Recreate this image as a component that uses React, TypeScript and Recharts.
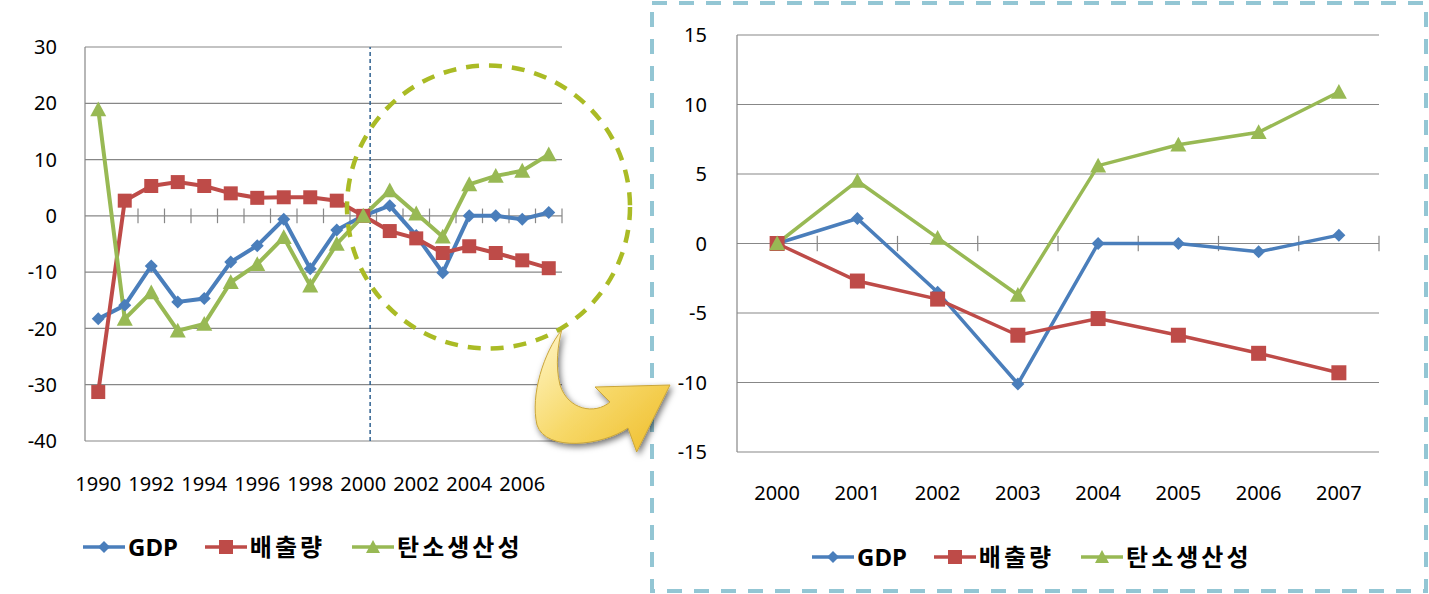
import React from 'react';
import { LineChart, Line, XAxis, YAxis, CartesianGrid, ReferenceLine, Legend } from 'recharts';

// 1990-2007 (left chart)
const yearsLong = [1990, 1991, 1992, 1993, 1994, 1995, 1996, 1997, 1998, 1999, 2000, 2001, 2002, 2003, 2004, 2005, 2006, 2007];
const gdpLong = [-18.3, -15.9, -8.9, -15.3, -14.7, -8.2, -5.3, -0.6, -9.4, -2.5, 0, 1.8, -3.5, -10.1, 0, 0, -0.6, 0.6];
const emissionLong = [-31.3, 2.7, 5.3, 6.0, 5.3, 4.0, 3.2, 3.3, 3.3, 2.7, 0, -2.7, -4.0, -6.6, -5.4, -6.6, -7.9, -9.3];
const productivityLong = [18.9, -18.3, -13.6, -20.4, -19.2, -11.8, -8.6, -3.8, -12.4, -5.0, 0, 4.5, 0.4, -3.7, 5.6, 7.1, 8.0, 10.9];
const longTicksX = [1990, 1992, 1994, 1996, 1998, 2000, 2002, 2004, 2006];
const longTicksY = [-40, -30, -20, -10, 0, 10, 20, 30];

// 2000-2007 (right chart)
const yearsShort = [2000, 2001, 2002, 2003, 2004, 2005, 2006, 2007];
const gdpShort = [0, 1.8, -3.5, -10.1, 0, 0, -0.6, 0.6];
const emissionShort = [0, -2.7, -4.0, -6.6, -5.4, -6.6, -7.9, -9.3];
const productivityShort = [0, 4.5, 0.4, -3.7, 5.6, 7.1, 8.0, 10.9];
const shortTicksY = [-15, -10, -5, 0, 5, 10, 15];

const FONT = "'Noto Sans', 'Noto Sans CJK KR', sans-serif";
const GRID = '#878787';

const series = [
  { key: 'gdp', name: 'GDP', color: '#4a7ebb', marker: 'diamond' },
  { key: 'emission', name: '배출량', color: '#be4b48', marker: 'square' },
  { key: 'productivity', name: '탄소생산성', color: '#98b954', marker: 'triangle' },
];

const longRows = yearsLong.map((year, i) => ({
  year, gdp: gdpLong[i], emission: emissionLong[i], productivity: productivityLong[i],
}));
const shortRows = yearsShort.map((year, i) => ({
  year, gdp: gdpShort[i], emission: emissionShort[i], productivity: productivityShort[i],
}));

const markerPath = (type: string, cx: number, cy: number, size: number) => {
  const r = size / 2;
  if (type === 'diamond') return `M${cx},${cy - r}L${cx + r},${cy}L${cx},${cy + r}L${cx - r},${cy}Z`;
  if (type === 'square') return `M${cx - r},${cy - r}h${size}v${size}h${-size}Z`;
  return `M${cx},${cy - r}L${cx + r},${cy + r * 0.85}L${cx - r},${cy + r * 0.85}Z`;
};

const makeDot = (type: string, color: string, size: number) => (props: any) => {
  const { cx, cy, index } = props;
  if (cx == null || cy == null) return <g key={index} />;
  return <path key={index} d={markerPath(type, cx, cy, size)} fill={color} />;
};

const LegendBox = ({ fontSize }: { fontSize: number }) => (
  <div style={{ display: 'flex', alignItems: 'center', fontFamily: FONT, fontWeight: 700, fontSize, color: '#000', whiteSpace: 'nowrap' }}>
    {series.map((s) => (
      <div key={s.key} style={{ display: 'flex', alignItems: 'center', marginRight: 27 }}>
        <svg width={42} height={20}>
          <line x1={0} y1={10} x2={42} y2={10} stroke={s.color} strokeWidth={3.5} />
          <path d={markerPath(s.marker, 21, 10, s.marker === 'diamond' ? 12 : 14)} fill={s.color} />
        </svg>
        <span style={{ marginLeft: 3, lineHeight: 1, letterSpacing: /^[A-Za-z]+$/.test(s.name) ? 0 : 3 }}>{s.name}</span>
      </div>
    ))}
  </div>
);

const boundaries = (years: number[]) => years.map((y) => y + 0.5);

export default function App() {
  return (
    <div style={{ position: 'absolute', left: 0, top: 0, width: 1429, height: 594, background: '#fff', overflow: 'hidden' }}>
      {/* left chart */}
      <LineChart
        width={640}
        height={594}
        data={longRows}
        margin={{ top: 47, right: 78, bottom: 113, left: 0 }}
        style={{ position: 'absolute', left: 0, top: 0 }}
      >
        <CartesianGrid horizontal vertical={false} stroke={GRID} strokeWidth={1.2} />
        <XAxis
          dataKey="year"
          type="number"
          domain={[1989.5, 2007.5]}
          ticks={longTicksX}
          height={40}
          axisLine={false}
          tickLine={false}
          tickMargin={30}
          tick={{ fill: '#000', fontSize: 20, fontFamily: FONT }}
          interval={0}
        />
        <YAxis
          width={85}
          domain={[-40, 30]}
          ticks={longTicksY}
          axisLine={{ stroke: GRID, strokeWidth: 1.2 }}
          tickLine={false}
          tickMargin={22}
          tick={{ fill: '#000', fontSize: 20, fontFamily: FONT }}
          interval={0}
        />
        {boundaries(yearsLong).map((b) => (
          <ReferenceLine key={b} segment={[{ x: b, y: -1.3 }, { x: b, y: 1.3 }]} stroke={GRID} strokeWidth={1.2} ifOverflow="visible" />
        ))}
        <ReferenceLine x={2000.26} stroke="#2f6190" strokeWidth={1.5} strokeDasharray="4 3" />
        {series.map((s) => (
          <Line
            key={s.key}
            dataKey={s.key}
            name={s.name}
            stroke={s.color}
            strokeWidth={4}
            dot={makeDot(s.marker, s.color, s.marker === 'diamond' ? 13 : s.marker === 'square' ? 14 : 16)}
            activeDot={false}
            isAnimationActive={false}
          />
        ))}
        <Legend
          layout="horizontal"
          verticalAlign="middle"
          align="center"
          wrapperStyle={{ left: 83, top: 535, width: 'auto' }}
          content={() => <LegendBox fontSize={24} />}
        />
      </LineChart>

      {/* right chart */}
      <LineChart
        width={777}
        height={594}
        data={shortRows}
        margin={{ top: 35, right: 50, bottom: 102, left: 0 }}
        style={{ position: 'absolute', left: 652, top: 0 }}
      >
        <CartesianGrid horizontal vertical={false} stroke={GRID} strokeWidth={1.2} />
        <XAxis
          dataKey="year"
          type="number"
          domain={[1999.5, 2007.5]}
          ticks={yearsShort}
          height={40}
          axisLine={false}
          tickLine={false}
          tickMargin={28}
          tick={{ fill: '#000', fontSize: 20, fontFamily: FONT }}
          interval={0}
        />
        <YAxis
          width={85}
          domain={[-15, 15]}
          ticks={shortTicksY}
          axisLine={{ stroke: GRID, strokeWidth: 1.2 }}
          tickLine={false}
          tickMargin={24}
          tick={{ fill: '#000', fontSize: 20, fontFamily: FONT }}
          interval={0}
        />
        {boundaries(yearsShort).map((b) => (
          <ReferenceLine key={b} segment={[{ x: b, y: -0.55 }, { x: b, y: 0.55 }]} stroke={GRID} strokeWidth={1.2} ifOverflow="visible" />
        ))}
        {series.map((s) => (
          <Line
            key={s.key}
            dataKey={s.key}
            name={s.name}
            stroke={s.color}
            strokeWidth={3.5}
            dot={makeDot(s.marker, s.color, s.marker === 'diamond' ? 13 : s.marker === 'square' ? 15 : 16)}
            activeDot={false}
            isAnimationActive={false}
          />
        ))}
        <Legend
          layout="horizontal"
          verticalAlign="middle"
          align="center"
          wrapperStyle={{ left: 160, top: 545, width: 'auto' }}
          content={() => <LegendBox fontSize={24} />}
        />
      </LineChart>

      {/* decorations: zoom box, highlight circle, arrow */}
      <svg width={1429} height={594} style={{ position: 'absolute', left: 0, top: 0, pointerEvents: 'none' }}>
        <defs>
          <linearGradient id="arrowFill" x1="0" y1="0" x2="1" y2="1">
            <stop offset="0%" stopColor="#fff6c8" />
            <stop offset="50%" stopColor="#f7d96a" />
            <stop offset="100%" stopColor="#efbd2a" />
          </linearGradient>
          <filter id="arrowShadow" x="-20%" y="-20%" width="140%" height="140%">
            <feDropShadow dx="2" dy="3" stdDeviation="3" floodColor="#000" floodOpacity="0.55" />
          </filter>
        </defs>
        <rect x={652} y={3} width={774} height={588} fill="none" stroke="#93c6d4" strokeWidth={4} strokeDasharray="15 12" />
        <ellipse cx={488.5} cy={207} rx={141.5} ry={141.5} fill="none" stroke="#aabb25" strokeWidth={4.5} strokeDasharray="13 10" />
        <path
          d="M561.7,330 C544,352 530,395 537,425 C546,452 602,446 628,428 L636.7,452 L670,385 L595,387 L610,402 C595,415 568,410 560,385 C555,365 558,345 561.7,330 Z"
          fill="url(#arrowFill)"
          stroke="#c9a53a"
          strokeWidth={1}
          filter="url(#arrowShadow)"
        />
      </svg>
    </div>
  );
}
